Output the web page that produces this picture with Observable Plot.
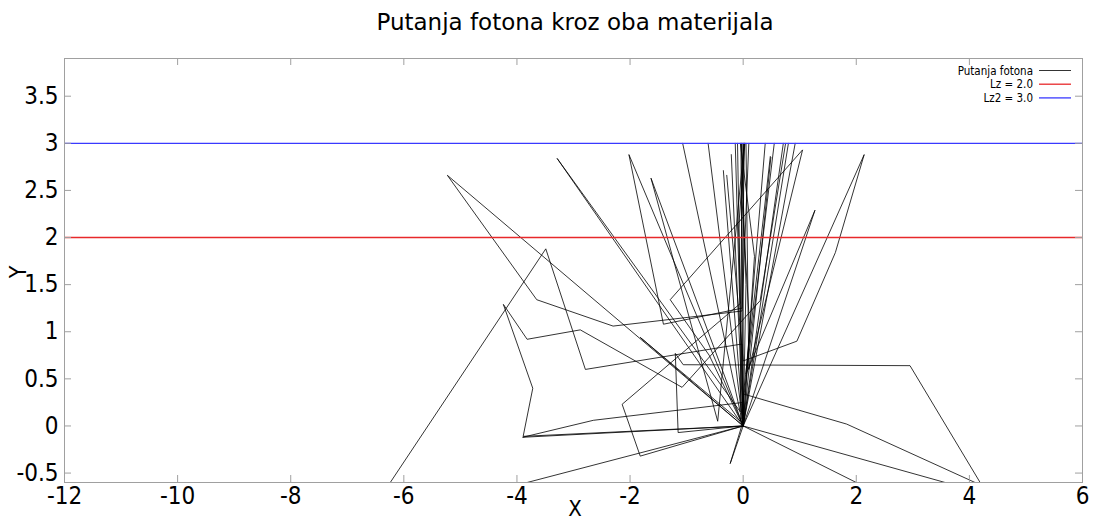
<!DOCTYPE html>
<html>
<head>
<meta charset="utf-8">
<script src="https://cdn.jsdelivr.net/npm/d3@7"></script>
<script src="https://cdn.jsdelivr.net/npm/@observablehq/plot@0.6"></script>
<style>
  body { margin: 0; background: #fff; }
  #wrap { position: relative; width: 1096px; height: 522px; font-family: "DejaVu Sans Condensed", "DejaVu Sans", sans-serif; }
  #title { position: absolute; left: 27px; width: 1096px; top: 7px; text-align: center; font-family: "DejaVu Sans", sans-serif; font-size: 23px; line-height: 30px; color: #000; white-space: nowrap; }
  #xlab { position: absolute; left: 565px; width: 20px; top: 496px; text-align: center; font-size: 22px; line-height: 26px; }
  #ylab { position: absolute; left: 8px; top: 259px; width: 20px; text-align: center; font-size: 23px; line-height: 26px; transform: rotate(-90deg); }
  #chart { position: absolute; left: 0; top: 0; }
</style>
</head>
<body>
<div id="wrap">
  <div id="chart"></div>
  <div id="title">Putanja fotona kroz oba materijala</div>
  <div id="xlab">X</div>
  <div id="ylab">Y</div>
</div>
<script>
const xTicks = [-12, -10, -8, -6, -4, -2, 0, 2, 4, 6];
const yTicks = [-0.5, 0, 0.5, 1, 1.5, 2, 2.5, 3, 3.5];
const xDomain = [-12, 6];
const yDomain = [-0.6, 3.9];

const layerLevels = [2.0, 3.0];
const layerNames = ["Lz = 2.0", "Lz2 = 3.0"];
const layerColors = ["#e8292b", "#3a3aff"];
const pathName = "Putanja fotona";

// photon paths, each a list of [x, y] points
const photonPaths = [
  [[0,0],[-0.02,0.87],[-2.79,0.60],[-3.49,1.88],[-6.24,-0.6]],
  [[0,0],[-3.89,-0.11],[-3.72,0.40],[-4.24,1.29],[-3.82,0.92],[-2.88,1.02],[-1.08,0.41],[0.3,1.33],[0.75,3.0]],
  [[0,0],[-1.63,2.63],[-0.45,0.05],[0.02,3.0]],
  [[0,0],[-5.23,2.66],[-3.65,1.34],[-2.30,1.06],[-0.02,1.22],[0.1,3.0]],
  [[0,0],[-3.29,2.84],[-0.05,0.15],[-0.02,3.0]],
  [[0,0],[-2.02,2.88],[-1.41,1.08],[-0.02,1.25],[0.02,3.0]],
  [[0,0],[-1.82,0.94],[-0.05,0.05],[0.48,2.86]],
  [[0,0],[-1.15,-0.07],[-1.2,0.77],[-1.06,0.65],[2.95,0.64],[4.19,-0.6]],
  [[0,0],[-1.82,-0.32],[-2.14,0.23],[-0.05,1.3],[-0.1,3.0]],
  [[0,0],[-3.9,-0.12],[-2.65,0.06],[0,0.25],[0.55,3.0]],
  [[0,0],[-3.82,-0.6]],
  [[0,0],[-0.6,0.75],[-1.29,1.34],[1.05,2.93],[0.1,0.6],[0.05,3.0]],
  [[0,0],[2.14,2.88],[1.63,1.84],[0.95,0.90],[0,0.69],[-0.29,2.66]],
  [[0,0],[1.27,2.29],[0.05,0.55],[0.39,3.0]],
  [[0,0],[0,0.34],[1.83,0.02],[4.1,-0.6]],
  [[0,0],[3.57,-0.6]],
  [[0,0],[2.0,-0.6]],
  [[0,0],[-0.23,-0.4],[0.0,0.05],[0.0,3.0]],
  [[0,0],[-1.07,3.0]],
  [[0,0],[-0.62,3.0]],
  [[0,0],[-0.14,3.0]],
  [[0,0],[-0.04,3.0]],
  [[0,0],[-0.35,2.71]],
  [[0,0],[-0.21,2.88]],
  [[0,0],[0.49,2.85]],
  [[0,0],[0.71,3.0]],
  [[0,0],[0.8,3.0]],
  [[0,0],[0.92,3.0]],
  [[0,0],[0.2,1.8],[-0.05,3.0]],
  [[0,0],[0.05,1.5],[-0.03,3.0]],
  [[0,0],[-0.08,2.1],[0.03,3.0]],
  [[0,0],[0.12,1.0],[-0.02,2.4],[0.01,3.0]]
];

const rows = photonPaths.flatMap((p, i) => p.map(([x, y]) => ({id: i, x, y})));

const W = 1096, H = 522;
const mL = 64, mR = 14, mT = 58, mB = 40;
const innerW = W - mL - mR, innerH = H - mT - mB;
const tickLen = 7;
const frameColor = "#a0a0a0";

const chart = Plot.plot({
  width: W, height: H,
  marginLeft: mL, marginRight: mR, marginTop: mT, marginBottom: mB,
  style: {fontFamily: '"DejaVu Sans Condensed", "DejaVu Sans", sans-serif', fontSize: "24px", color: "#000", background: "#fff"},
  x: {domain: xDomain},
  y: {domain: yDomain},
  marks: [
    Plot.line(rows, {x: "x", y: "y", z: "id", stroke: "#000", strokeWidth: 0.8, clip: true}),
    Plot.ruleY(layerLevels, {y: d => d, stroke: (d, i) => layerColors[i], strokeWidth: 1.3}),
    Plot.tickX(xTicks, {x: d => d, stroke: frameColor, insetTop: innerH - tickLen}),
    Plot.tickX(xTicks, {x: d => d, stroke: frameColor, insetBottom: innerH - tickLen}),
    Plot.tickY(yTicks, {y: d => d, stroke: frameColor, insetRight: innerW - tickLen}),
    Plot.tickY(yTicks, {y: d => d, stroke: frameColor, insetLeft: innerW - tickLen}),
    Plot.frame({stroke: frameColor}),
    Plot.axisX(xTicks, {tickSize: 0, tickPadding: 4, tickFormat: d => String(d), label: null}),
    Plot.axisY(yTicks, {tickSize: 0, tickPadding: 6, tickFormat: d => String(d), label: null})
  ]
});
document.getElementById("chart").appendChild(chart);

// legend (inside top-right corner)
const legendItems = [{name: pathName, color: "#000", w: 0.8}].concat(
  layerNames.map((n, i) => ({name: n, color: layerColors[i], w: 1.3})));
const ns = "http://www.w3.org/2000/svg";
const lg = document.createElementNS(ns, "svg");
lg.setAttribute("width", W);
lg.setAttribute("height", 120);
lg.style.position = "absolute"; lg.style.left = "0px"; lg.style.top = "0px";
legendItems.forEach((it, i) => {
  const yy = 70.5 + i * 13.7;
  const t = document.createElementNS(ns, "text");
  t.setAttribute("x", 1033); t.setAttribute("y", yy + 4);
  t.setAttribute("text-anchor", "end");
  t.setAttribute("font-size", "11.5");
  t.setAttribute("font-family", '"DejaVu Sans Condensed", "DejaVu Sans", sans-serif');
  t.textContent = it.name;
  lg.appendChild(t);
  const l = document.createElementNS(ns, "line");
  l.setAttribute("x1", 1039); l.setAttribute("x2", 1071);
  l.setAttribute("y1", yy); l.setAttribute("y2", yy);
  l.setAttribute("stroke", it.color); l.setAttribute("stroke-width", it.w);
  lg.appendChild(l);
});
document.getElementById("wrap").appendChild(lg);
</script>
</body>
</html>
